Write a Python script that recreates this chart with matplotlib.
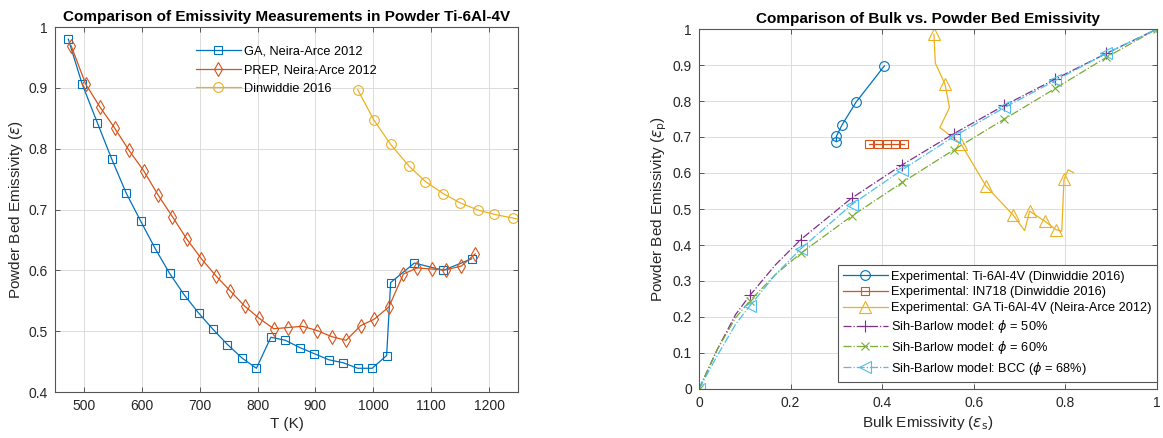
import numpy as np
import matplotlib
matplotlib.use('Agg')
import matplotlib.pyplot as plt
from matplotlib.ticker import FuncFormatter

# left panel: emissivity vs temperature
ga_T = [473, 497, 523, 548, 573, 598, 623, 648, 673, 698, 723, 748, 773, 798,
        823, 848, 873, 898, 923, 948, 973, 998, 1023, 1030, 1071, 1121, 1170]
ga_eps = [0.980, 0.906, 0.843, 0.783, 0.727, 0.681, 0.636, 0.595, 0.560, 0.530,
          0.503, 0.478, 0.456, 0.439, 0.490, 0.485, 0.473, 0.463, 0.453, 0.448,
          0.439, 0.439, 0.460, 0.580, 0.612, 0.600, 0.619]
prep_T = [478, 503, 528, 553, 578, 603, 628, 653, 678, 703, 728, 753, 778, 803,
          828, 853, 878, 903, 928, 953, 978, 1002, 1027, 1052, 1076, 1102, 1126,
          1152, 1176]
prep_eps = [0.969, 0.906, 0.868, 0.834, 0.797, 0.764, 0.724, 0.688, 0.651, 0.619,
            0.591, 0.566, 0.541, 0.521, 0.504, 0.506, 0.508, 0.501, 0.491, 0.485,
            0.509, 0.520, 0.540, 0.594, 0.604, 0.602, 0.601, 0.607, 0.627]
din_T = [973, 1001, 1030, 1061, 1090, 1121, 1150, 1181, 1209, 1241, 1272]
din_eps = [0.897, 0.847, 0.807, 0.772, 0.746, 0.726, 0.711, 0.699, 0.692, 0.686, 0.680]

# right panel: bulk vs powder bed emissivity
ti_bulk = [0.300, 0.300, 0.312, 0.343, 0.405]
ti_pb = [0.687, 0.702, 0.733, 0.797, 0.898]
in_bulk = [0.372, 0.390, 0.410, 0.429, 0.448]
in_pb = [0.681, 0.681, 0.681, 0.681, 0.681]
gaexp_bulk = [0.513, 0.516, 0.537, 0.547, 0.526, 0.572, 0.627, 0.686, 0.711,
              0.722, 0.755, 0.779, 0.792, 0.797, 0.806, 0.818]
gaexp_pb = [0.985, 0.905, 0.847, 0.782, 0.726, 0.681, 0.563, 0.483, 0.440,
            0.494, 0.466, 0.443, 0.438, 0.583, 0.609, 0.601]
gaexp_marks = [0, 2, 5, 6, 7, 9, 10, 11, 13]

model_x = [0, 0.04, 0.08, 0.111, 0.167, 0.222, 0.333, 0.444, 0.556, 0.667, 0.778, 0.889, 1.0]
sb50 = [0, 0.110, 0.207, 0.260, 0.345, 0.415, 0.530, 0.623, 0.709, 0.788, 0.861, 0.932, 1.0]
sb60 = [0, 0.110, 0.198, 0.245, 0.318, 0.377, 0.480, 0.574, 0.664, 0.750, 0.835, 0.921, 1.0]
sbbcc = [0, 0.093, 0.180, 0.231, 0.318, 0.389, 0.512, 0.609, 0.701, 0.782, 0.857, 0.932, 1.0]
model_marks = [0, 3, 5, 6, 7, 8, 9, 10, 11, 12]

c_blue = '#0072BD'
c_orange = '#D95319'
c_yellow = '#EDB120'
c_purple = '#7E2F8E'
c_green = '#77AC30'
c_cyan = '#4DBEEE'
dark = '#262626'

plt.rcParams['font.family'] = ['Liberation Sans', 'DejaVu Sans']
plt.rcParams['mathtext.fontset'] = 'dejavusans'
plt.rcParams['font.size'] = 9.5

fig = plt.figure(figsize=(11.63, 4.38), dpi=100)
W, H = 1163.0, 438.0
ax1 = fig.add_axes([55 / W, (H - 392) / H, (518 - 55) / W, (392 - 27) / H])
ax2 = fig.add_axes([699 / W, (H - 389) / H, (1157 - 699) / W, (389 - 29) / H])

fmt = FuncFormatter(lambda v, p: '%g' % round(v, 3))


def style(ax):
    ax.grid(True, color='#dcdcdc', linewidth=0.7)
    ax.set_axisbelow(True)
    for s in ax.spines.values():
        s.set_color('#555555')
        s.set_linewidth(0.8)
    ax.tick_params(direction='in', length=3.5, width=0.7, colors='#555555',
                   labelcolor=dark, labelsize=10, top=True, right=True, pad=5)
    ax.xaxis.set_major_formatter(fmt)
    ax.yaxis.set_major_formatter(fmt)


lw = 0.9
ms = 6
ax1.plot(ga_T, ga_eps, '-', color=c_blue, lw=lw, marker='s', ms=ms, mfc='none',
         mew=0.8, label='GA, Neira-Arce 2012')
ax1.plot(prep_T, prep_eps, '-', color=c_orange, lw=lw, marker='d', ms=ms + 1.5,
         mfc='none', mew=0.8, label='PREP, Neira-Arce 2012')
ax1.plot(din_T, din_eps, '-', color=c_yellow, lw=lw, marker='o', ms=ms + 1,
         mfc='none', mew=0.8, label='Dinwiddie 2016')
ax1.set_xlim(450, 1250)
ax1.set_ylim(0.4, 1.0)
ax1.set_xticks(np.arange(500, 1201, 100))
ax1.set_yticks(np.arange(0.4, 1.01, 0.1))
style(ax1)
ax1.set_title('Comparison of Emissivity Measurements in Powder Ti-6Al-4V',
              fontsize=11, fontweight='bold', pad=4)
ax1.set_xlabel('T (K)', fontsize=11, color=dark, labelpad=3)
ax1.set_ylabel(r'Powder Bed Emissivity ($\epsilon$)', fontsize=11, color=dark, labelpad=3)
ax1.legend(loc='upper center', bbox_to_anchor=(0.5, 0.98), frameon=False,
           fontsize=9.2, handlelength=3.5, labelspacing=0.5, handletextpad=0.3)

ax2.plot(ti_bulk, ti_pb, '-', color=c_blue, lw=lw, marker='o', ms=ms + 1,
         mfc='none', mew=0.8, label='Experimental: Ti-6Al-4V (Dinwiddie 2016)')
ax2.plot(in_bulk, in_pb, '-', color=c_orange, lw=lw, marker='s', ms=ms,
         mfc='none', mew=0.8, label='Experimental: IN718 (Dinwiddie 2016)')
ax2.plot(gaexp_bulk, gaexp_pb, '-', color=c_yellow, lw=lw, marker='^', ms=ms + 2,
         mfc='none', mew=0.8, markevery=gaexp_marks,
         label='Experimental: GA Ti-6Al-4V (Neira-Arce 2012)')
ax2.plot(model_x, sb50, '-.', color=c_purple, lw=lw, marker='+', ms=ms + 2,
         mew=0.8, markevery=model_marks, label=r'Sih-Barlow model: $\phi$ = 50%')
ax2.plot(model_x, sb60, '-.', color=c_green, lw=lw, marker='x', ms=ms,
         mew=0.8, markevery=model_marks, label=r'Sih-Barlow model: $\phi$ = 60%')
ax2.plot(model_x, sbbcc, '-.', color=c_cyan, lw=lw, marker='<', ms=ms + 2,
         mfc='none', mew=0.8, markevery=model_marks,
         label=r'Sih-Barlow model: BCC ($\phi$ = 68%)')
ax2.set_xlim(0, 1)
ax2.set_ylim(0, 1)
ax2.set_xticks(np.arange(0, 1.01, 0.2))
ax2.set_yticks(np.arange(0, 1.01, 0.1))
style(ax2)
ax2.set_title('Comparison of Bulk vs. Powder Bed Emissivity',
              fontsize=11, fontweight='bold', pad=4)
ax2.set_xlabel(r'Bulk Emissivity ($\epsilon_{\mathrm{s}}$)', fontsize=11, color=dark, labelpad=3)
ax2.set_ylabel(r'Powder Bed Emissivity ($\epsilon_{\mathrm{p}}$)', fontsize=11, color=dark, labelpad=3)
leg = ax2.legend(loc='lower right', bbox_to_anchor=(1.0, 0.02), fontsize=9.2,
                 handlelength=3.5, labelspacing=0.3, handletextpad=0.3,
                 borderaxespad=0, fancybox=False, framealpha=1, borderpad=0.4)
leg.get_frame().set_edgecolor('#555555')
leg.get_frame().set_linewidth(0.8)

fig.savefig('out.png', dpi=100)
